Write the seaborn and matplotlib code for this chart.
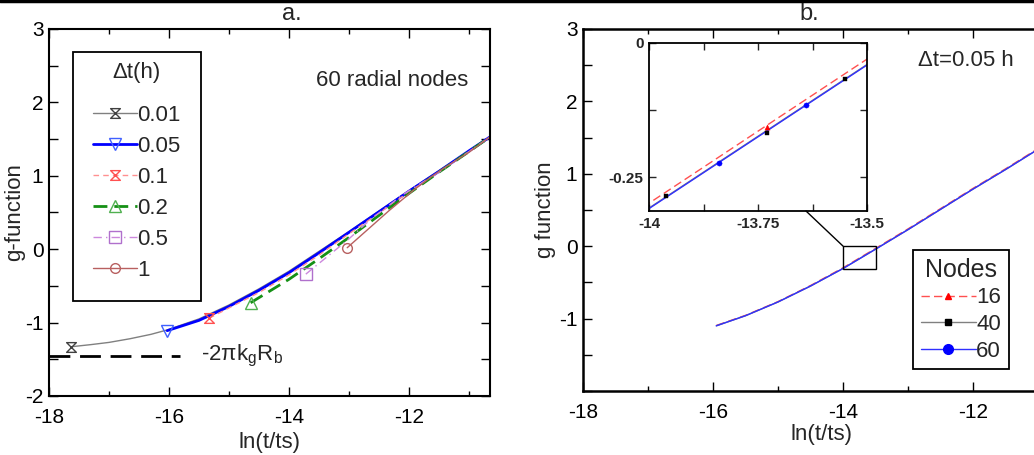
import numpy as np
import pandas as pd
import seaborn as sns
import matplotlib.pyplot as plt
from matplotlib.lines import Line2D
from matplotlib.patches import Rectangle, ConnectionPatch
from matplotlib.path import Path
from matplotlib.ticker import MultipleLocator

# ---- panel a: time step study, 60 radial nodes ----
x_001 = [-17.64, -17.3, -17.0, -16.65, -16.3, -16.03, -15.5, -15.0, -14.5, -14.0, -13.5, -13.0, -12.5, -12.0, -11.5, -11.0, -10.65]
g_001 = [-1.33, -1.30, -1.27, -1.22, -1.16, -1.10, -0.95, -0.76, -0.54, -0.30, -0.03, 0.24, 0.52, 0.80, 1.07, 1.34, 1.53]
x_005 = [-16.03, -15.5, -15.0, -14.5, -14.0, -13.5, -13.0, -12.5, -12.0, -11.5, -11.0, -10.65]
g_005 = [-1.11, -0.97, -0.78, -0.56, -0.32, -0.05, 0.23, 0.51, 0.79, 1.06, 1.34, 1.53]
x_01 = [-15.33, -15.0, -14.5, -14.0, -13.5, -13.0, -12.5, -12.0, -11.5, -11.0, -10.65]
g_01 = [-0.94, -0.80, -0.59, -0.35, -0.08, 0.21, 0.49, 0.78, 1.05, 1.33, 1.53]
x_02 = [-14.64, -14.0, -13.5, -13.0, -12.5, -12.0, -11.5, -11.0, -10.65]
g_02 = [-0.73, -0.41, -0.13, 0.16, 0.46, 0.76, 1.05, 1.33, 1.53]
x_05 = [-13.72, -13.03, -12.62, -12.33, -12.11, -11.5, -11.0, -10.65]
g_05 = [-0.34, 0.12, 0.42, 0.60, 0.74, 1.05, 1.33, 1.53]
x_1 = [-13.03, -12.34, -11.93, -11.64, -11.41, -11.0, -10.65]
g_1 = [0.02, 0.52, 0.80, 0.98, 1.11, 1.32, 1.53]

dt_labels = ["0.01", "0.05", "0.1", "0.2", "0.5", "1"]
asymptote_x = [-18.0, -15.82]
asymptote_y = [-1.45, -1.45]

# ---- panel b: node study, dt = 0.05 h ----
x_b = [-15.95, -15.5, -15.0, -14.5, -14.0, -13.5, -13.0, -12.5, -12.0, -11.5, -11.0, -10.65]
g_b16 = [-1.095, -0.955, -0.765, -0.543, -0.298, -0.030, 0.24, 0.52, 0.80, 1.07, 1.35, 1.54]
g_b40 = [-1.10, -0.96, -0.77, -0.55, -0.307, -0.040, 0.23, 0.51, 0.79, 1.06, 1.34, 1.53]
g_b60 = [-1.10, -0.96, -0.77, -0.55, -0.308, -0.041, 0.23, 0.51, 0.79, 1.06, 1.34, 1.53]
node_labels = ["16", "40", "60"]

# markers shown in the zoomed inset
pts16_x = [-13.73]
pts16_y = [-0.157]
pts40_x = [-13.96, -13.73, -13.55]
pts40_y = [-0.285, -0.168, -0.067]
pts60_x = [-13.84, -13.64]
pts60_y = [-0.224, -0.116]

sns.set_theme(style="ticks")
plt.rcParams["font.family"] = ["Liberation Sans", "DejaVu Sans"]
plt.rcParams["axes.unicode_minus"] = False
plt.rcParams["mathtext.default"] = "regular"

hourglass = Path([(-1, 1), (1, 1), (-1, -1), (1, -1), (-1, 1)],
                 [Path.MOVETO, Path.LINETO, Path.LINETO, Path.LINETO, Path.CLOSEPOLY])

fig = plt.figure(figsize=(10.34, 4.55), dpi=100)
ax_a = fig.add_axes([0.0474, 0.1297, 0.4265, 0.8066])
ax_b = fig.add_axes([0.5638, 0.1407, 0.4623, 0.7956])


def style_axes(ax, lw):
    for s in ax.spines.values():
        s.set_linewidth(lw)
        s.set_color("black")
    ax.tick_params(which="both", direction="in", top=True, right=True,
                   colors="black", width=1)
    ax.tick_params(axis="both", which="major", labelsize=15, length=6.5)
    ax.tick_params(axis="x", which="major", pad=9)
    ax.tick_params(axis="y", which="major", pad=4)
    ax.tick_params(axis="x", which="minor", length=3.5)
    ax.tick_params(axis="y", which="minor", length=6.5)


# ---------------- panel a ----------------
series_a = [
    (x_001, g_001, dict(color="#808080", lw=1.0, ls="-", marker=hourglass, ms=7, mec="#404040")),
    (x_005, g_005, dict(color="#0000ff", lw=2.0, ls="-", marker="v", ms=9, mec="#4060ff")),
    (x_01, g_01, dict(color="#ff9090", lw=1.0, ls=(0, (4, 3)), marker=hourglass, ms=7, mec="#ff5050")),
    (x_02, g_02, dict(color="#159015", lw=2.0, ls=(0, (5, 2.5)), marker="^", ms=9, mec="#50b050")),
    (x_05, g_05, dict(color="#cc88dd", lw=1.0, ls=(0, (6, 3, 1, 3)), marker="s", ms=9, mec="#b070cc")),
    (x_1, g_1, dict(color="#b86060", lw=1.0, ls="-", marker="o", ms=7, mec="#b86060")),
]
for (xs, ys, kw), lab in zip(series_a, dt_labels):
    sns.lineplot(x=xs, y=ys, ax=ax_a, label=lab, estimator=None, errorbar=None,
                 markevery=[0], mfc="none", mew=1.0, **kw)

sns.lineplot(x=asymptote_x, y=asymptote_y, ax=ax_a, color="black", lw=2,
             ls=(0, (7.5, 3.5)), estimator=None, errorbar=None)
ax_a.text(-15.47, -1.45, r"-2$\pi$k$_g$R$_b$", fontsize=16, va="center", ha="left")
ax_a.text(-13.55, 2.3, "60 radial nodes", fontsize=16, va="center", ha="left")

ax_a.set_xlim(-18, -10.65)
ax_a.set_ylim(-2, 3)
ax_a.xaxis.set_major_locator(MultipleLocator(2))
ax_a.xaxis.set_minor_locator(MultipleLocator(1))
ax_a.yaxis.set_major_locator(MultipleLocator(1))
ax_a.yaxis.set_minor_locator(MultipleLocator(0.5))
style_axes(ax_a, 1.5)
ax_a.set_xlabel("ln(t/ts)", fontsize=16, labelpad=3)
ax_a.set_ylabel("g-function", fontsize=16, labelpad=0)
ax_a.text(0.551, 1.012, "a.", transform=ax_a.transAxes, fontsize=17,
          ha="center", va="bottom")

leg_a = ax_a.legend(title="\u0394t(h)", loc="upper left", bbox_to_anchor=(0.054, 0.937),
                    borderaxespad=0, fontsize=16, title_fontsize=16, numpoints=1,
                    handlelength=2.0, handletextpad=0.0, labelspacing=0.45,
                    fancybox=False, framealpha=1, edgecolor="black",
                    borderpad=0.45)
leg_a.get_frame().set_linewidth(1.3)
leg_a._legend_box.align = "center"
leg_a._legend_box.sep = 8.6
leg_a._legend_handle_box.pad = 7.2

# ---------------- panel b ----------------
series_b = [
    (g_b16, dict(color="#ff5050", lw=1.0, ls=(0, (6, 3)), marker="^", ms=5, mfc="red", mec="red")),
    (g_b40, dict(color="#808080", lw=1.0, ls="-", marker="s", ms=5, mfc="black", mec="black")),
    (g_b60, dict(color="#3030ff", lw=1.0, ls="-", marker="o", ms=7, mfc="blue", mec="blue")),
]
for (ys, kw), lab in zip(series_b, node_labels):
    sns.lineplot(x=x_b, y=ys, ax=ax_b, label=lab, estimator=None, errorbar=None,
                 markevery=[], **kw)

ax_b.set_xlim(-18, -10.65)
ax_b.set_ylim(-2, 3)
ax_b.set_yticks([-1, 0, 1, 2, 3])
ax_b.xaxis.set_major_locator(MultipleLocator(2))
ax_b.xaxis.set_minor_locator(MultipleLocator(1))
ax_b.yaxis.set_minor_locator(MultipleLocator(0.5))
style_axes(ax_b, 1.8)
ax_b.set_xlabel("ln(t/ts)", fontsize=16, labelpad=1)
ax_b.set_ylabel("g function", fontsize=16, labelpad=2)
ax_b.text(0.473, 1.012, "b.", transform=ax_b.transAxes, fontsize=17,
          ha="center", va="bottom")
ax_b.text(-12.85, 2.57, "\u0394t=0.05 h", fontsize=16, va="center", ha="left")

# legend handles need visible markers
handles_b = [Line2D([0], [0], color=kw["color"], lw=1.0, ls=kw["ls"], marker=kw["marker"],
                    ms=kw["ms"], mfc=kw["mfc"], mec=kw["mec"]) for _, kw in series_b]
leg_b = ax_b.legend(handles_b, node_labels, title="Nodes", loc="upper left",
                    bbox_to_anchor=(0.690, 0.389), borderaxespad=0, fontsize=16,
                    title_fontsize=18, numpoints=1, handlelength=2.5, handletextpad=0.0,
                    labelspacing=0.25, fancybox=False, framealpha=1, edgecolor="black",
                    borderpad=0.35)
leg_b.get_frame().set_linewidth(1.3)
leg_b._legend_box.align = "center"

# zoom box on main panel b
ax_b.add_patch(Rectangle((-14, -0.31), 0.5, 0.31, fill=False, ec="black", lw=1.0, zorder=5))

# inset
ax_in = fig.add_axes([0.6277, 0.5363, 0.2108, 0.3692])
for ys, kw in [(g_b16, series_b[0][1]), (g_b40, series_b[1][1]), (g_b60, series_b[2][1])]:
    sns.lineplot(x=x_b, y=ys, ax=ax_in, color=kw["color"], lw=1.0, ls=kw["ls"],
                 estimator=None, errorbar=None)
sns.scatterplot(x=pts16_x, y=pts16_y, ax=ax_in, marker="^", s=14, color="red", edgecolor="red", zorder=4)
sns.scatterplot(x=pts40_x, y=pts40_y, ax=ax_in, marker="s", s=12, color="black", edgecolor="black", zorder=4)
sns.scatterplot(x=pts60_x, y=pts60_y, ax=ax_in, marker="o", s=14, color="blue", edgecolor="blue", zorder=4)
ax_in.set_xlim(-14, -13.5)
ax_in.set_ylim(-0.3125, 0)
ax_in.set_xticks([-14, -13.75, -13.5])
ax_in.set_xticklabels(["-14", "-13.75", "-13.5"])
ax_in.set_yticks([-0.25, 0])
ax_in.set_yticklabels(["-0.25", "0"])
ax_in.xaxis.set_minor_locator(MultipleLocator(0.125))
ax_in.yaxis.set_minor_locator(MultipleLocator(0.125))
for s in ax_in.spines.values():
    s.set_linewidth(1.3)
    s.set_color("black")
ax_in.tick_params(which="both", direction="in", top=True, right=True, length=5,
                  width=1, labelsize=11, pad=4)
for t in ax_in.get_xticklabels() + ax_in.get_yticklabels():
    t.set_fontweight("bold")
ax_in.set_xlabel("")
ax_in.set_ylabel("")

con = ConnectionPatch(xyA=(-13.64, -0.3125), coordsA=ax_in.transData,
                      xyB=(-14, 0), coordsB=ax_b.transData, color="black", lw=1.0)
fig.add_artist(con)

# rule along the top edge of the page
fig.add_artist(Line2D([0, 1], [0.997, 0.997], transform=fig.transFigure, color="black", lw=2.5))

fig.savefig("out.png", dpi=100)
